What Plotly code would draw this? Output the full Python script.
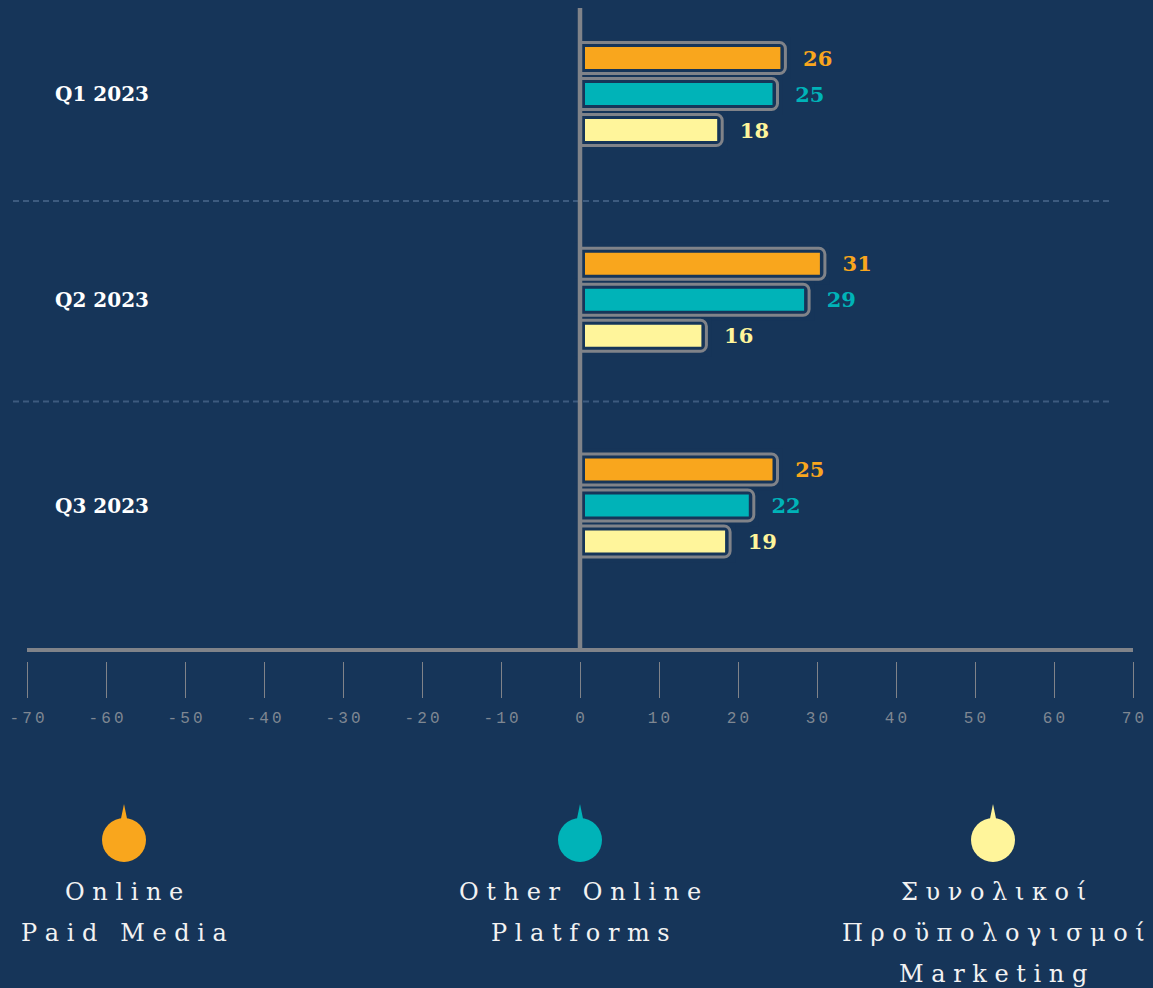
import plotly.graph_objects as go

quarters = ["Q1 2023", "Q2 2023", "Q3 2023"]
online_paid_media = [26, 31, 25]
other_online_platforms = [25, 29, 22]
total_marketing_budget = [18, 16, 19]

series_names = ["Online\nPaid Media", "Other Online\nPlatforms", "Συνολικοί\nΠροϋπολογισμοί\nMarketing"]
series_values = [online_paid_media, other_online_platforms, total_marketing_budget]
series_colors = ["#f9a61d", "#00b3b8", "#fff59b"]

x_ticks = list(range(-70, 71, 10))

BG = "#163559"
GRAY = "#808389"

# page geometry (pixels)
W, H = 1153, 988
L, R, T, B = 27, 1133, 8, 661
PITCH = 205.75  # px per category


def px(x):
    return (x - L) / (R - L)


def py(y):
    return (B - y) / (B - T)


fig = go.Figure()

bar_h = 31 / PITCH
step = 36 / PITCH
inset = 10
fill_h = (22 + inset) / PITCH

# filled bars (slightly inset by a background-coloured border)
for i, (vals, col) in enumerate(zip(series_values, series_colors)):
    c = (i - 1) * step
    fig.add_trace(go.Bar(
        y=quarters, x=vals, orientation="h",
        offset=c - fill_h / 2, width=fill_h,
        marker=dict(color=col, line=dict(color=BG, width=inset)),
        hoverinfo="skip", showlegend=False,
    ))

# rounded grey outlines carrying the value labels
for i, (vals, col) in enumerate(zip(series_values, series_colors)):
    c = (i - 1) * step
    fig.add_trace(go.Bar(
        y=quarters, x=vals, orientation="h",
        offset=c - bar_h / 2, width=bar_h,
        marker=dict(color="rgba(0,0,0,0)", line=dict(color=GRAY, width=3), cornerradius=6),
        texttemplate="\u00a0\u00a0%{x}", textposition="outside", cliponaxis=False,
        textfont=dict(family="DejaVu Serif", size=21, color=col, weight="bold"),
        showlegend=False,
    ))

shapes = []
# dashed separators between quarters
for yv in [0.52, 1.494]:
    shapes.append(dict(type="line", xref="paper", yref="y", x0=px(13), x1=px(1113), y0=yv, y1=yv,
                       line=dict(color="#3d5b7f", width=2, dash="6px,4px"), layer="below"))
# axis lines
shapes.append(dict(type="line", xref="paper", yref="paper", x0=0, x1=1, y0=py(650), y1=py(650),
                   line=dict(color=GRAY, width=4), layer="above"))
shapes.append(dict(type="line", xref="x", yref="paper", x0=0, x1=0, y0=py(650), y1=1,
                   line=dict(color=GRAY, width=4.5), layer="above"))

annotations = []
# quarter labels on the left
for q in quarters:
    annotations.append(dict(xref="paper", yref="y", x=px(53), y=q, text=q, showarrow=False,
                            xanchor="left", yanchor="middle",
                            font=dict(family="DejaVu Serif", size=20, color="#ffffff", weight="bold")))

# custom legend
legend_x = [124, 580, 993]
for name, col, lx in zip(series_names, series_colors, legend_x):
    r = 22
    shapes.append(dict(type="circle", xref="paper", yref="paper",
                       x0=px(lx - r), x1=px(lx + r), y0=py(840 + r), y1=py(840 - r),
                       fillcolor=col, line=dict(width=0)))
    shapes.append(dict(type="path", xref="paper", yref="paper",
                       path=f"M {px(lx - 3.5)} {py(821)} L {px(lx)} {py(804)} L {px(lx + 3.5)} {py(821)} Z",
                       fillcolor=col, line=dict(width=0)))
    for k, line in enumerate(name.split("\n")):
        spaced = "\u00a0\u00a0\u00a0".join(" ".join(word) for word in line.split(" "))
        annotations.append(dict(xref="paper", yref="paper", x=px(lx), y=py(892 + 41 * k),
                                text=spaced, showarrow=False, xanchor="center", yanchor="middle",
                                font=dict(family="DejaVu Serif", size=24, color="#f2f2f2")))

fig.update_layout(
    width=W, height=H,
    paper_bgcolor=BG, plot_bgcolor=BG,
    margin=dict(l=L, r=W - R, t=T, b=H - B),
    barmode="overlay",
    showlegend=False,
    shapes=shapes,
    annotations=annotations,
    xaxis=dict(
        range=[-70, 70], tickvals=x_ticks,
        ticktext=["\u2009".join(str(v)) for v in x_ticks],
        showgrid=False, zeroline=False, showline=False,
        ticks="outside", ticklen=36, tickwidth=1, tickcolor=GRAY,
        ticklabelstandoff=6,
        tickfont=dict(family="Liberation Mono", size=16, color="#7f8792"),
    ),
    yaxis=dict(
        type="category", categoryarray=quarters,
        range=[(B - 94) / PITCH, -(94 - T) / PITCH],
        showgrid=False, zeroline=False, showline=False, ticks="",
        showticklabels=False,
    ),
)

fig.write_html("out.html", config={"displayModeBar": False},
               post_script="document.body.style.margin='0';")
